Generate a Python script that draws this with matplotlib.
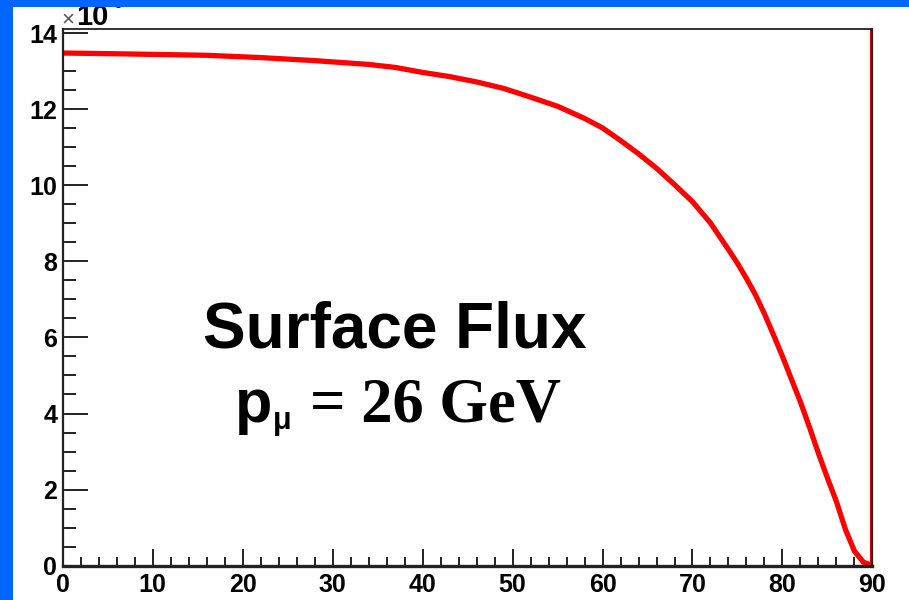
import numpy as np
import matplotlib.pyplot as plt
import matplotlib
from matplotlib.patches import Rectangle
from matplotlib.ticker import MultipleLocator

# zenith angle (deg) and surface flux (in units of the axis multiplier)
angles = [0, 6, 11, 16, 19, 22, 25, 28, 31, 34, 37, 40, 43, 46, 49, 52, 55,
          58, 60, 62, 64, 66, 68, 70, 72, 74, 75, 76, 77, 78, 79, 80, 81, 82,
          83, 84, 85, 86, 87, 88, 89, 90]
flux = [13.48, 13.46, 13.44, 13.42, 13.39, 13.36, 13.32, 13.28, 13.23, 13.18,
        13.10, 12.97, 12.86, 12.72, 12.55, 12.32, 12.08, 11.76, 11.51, 11.18,
        10.83, 10.45, 10.02, 9.57, 9.01, 8.31, 7.95, 7.55, 7.12, 6.62, 6.07,
        5.50, 4.90, 4.30, 3.64, 2.95, 2.30, 1.68, 0.95, 0.38, 0.09, 0.0]
y_max = 14.12
x_ticks_major = 10
y_ticks_major = 2

fig = plt.figure(figsize=(9.09, 6.0), dpi=100)
fig.patch.set_facecolor('white')

ax = fig.add_axes([0.0689, 0.0573, 0.8909, 0.8949])
ax.plot(angles, flux, color='#ff0000', lw=3.8, zorder=3)
ax.axvline(angles[-1], color='#ff0000', lw=3.0, zorder=2)

ax.set_xlim(angles[0], angles[-1])
ax.set_ylim(0, y_max)

ax.xaxis.set_major_locator(MultipleLocator(x_ticks_major))
ax.xaxis.set_minor_locator(MultipleLocator(2))
ax.yaxis.set_major_locator(MultipleLocator(y_ticks_major))
ax.yaxis.set_minor_locator(MultipleLocator(0.5))

ax.tick_params(axis='y', which='major', direction='in', length=18, width=1.4,
               color='#222222', pad=4)
ax.tick_params(axis='y', which='minor', direction='in', length=9, width=1.4,
               color='#222222')
ax.tick_params(axis='x', which='major', direction='in', length=12, width=1.4,
               color='#222222', pad=5)
ax.tick_params(axis='x', which='minor', direction='in', length=6.5, width=1.4,
               color='#222222')
for lab in ax.get_xticklabels() + ax.get_yticklabels():
    lab.set_fontfamily('Liberation Sans')
    lab.set_fontweight('bold')
    lab.set_fontsize(18)

for side, w in [('left', 1.6), ('bottom', 2.4), ('top', 1.3), ('right', 1.6)]:
    ax.spines[side].set_linewidth(w)
    ax.spines[side].set_color('#222222')
    ax.spines[side].set_zorder(5)

# axis multiplier (exponent hidden under the slide band)
fig.text(0.068, 0.958, '\u00d7', fontsize=16, color='#555555',
         family='Liberation Sans', va='baseline')
fig.text(0.084, 0.958, '10', fontsize=21, fontweight='bold',
         family='Liberation Sans', va='baseline')
fig.text(0.120, 0.987, '-6', fontsize=11, fontweight='bold',
         family='Liberation Sans', va='baseline')

# annotation
fig.text(0.434, 0.42, 'Surface Flux', fontsize=46, fontweight='bold',
         family='Liberation Sans', ha='center', va='baseline')
fig.text(0.259, 0.2967, 'p', fontsize=44, fontweight='bold',
         family='Liberation Sans', va='baseline')
fig.text(0.300, 0.285, '\u03bc', fontsize=22, fontweight='bold',
         family='Liberation Sans', va='baseline')
fig.text(0.341, 0.2967, '= 26 GeV', fontsize=45, fontweight='bold',
         family='Liberation Serif', va='baseline')

# slide background bands
blue = '#0066ff'
fig.patches.append(Rectangle((0, 0.988), 1, 0.012, transform=fig.transFigure,
                             facecolor=blue, edgecolor='none', zorder=10))
fig.patches.append(Rectangle((0, 0), 0.0143, 1, transform=fig.transFigure,
                             facecolor=blue, edgecolor='none', zorder=10))

fig.savefig('out.png', dpi=100)
